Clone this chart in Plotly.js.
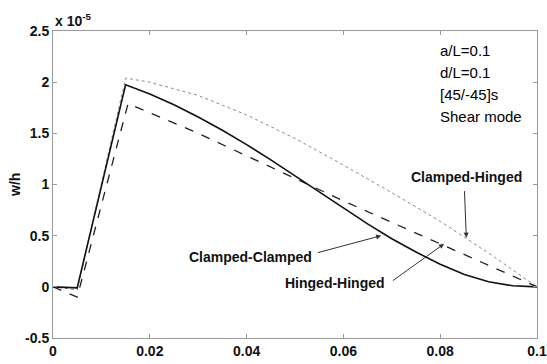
<!DOCTYPE html>
<html>
<head>
<meta charset="utf-8">
<script src="https://cdn.plot.ly/plotly-3.0.1.min.js"></script>
<style>html,body{margin:0;padding:0;background:#fff;}#chart{width:547px;height:364px;}</style>
</head>
<body>
<div id="chart"></div>
<script>
// Data (values in units of 1e-5)
const ccX = [0, 0.005, 0.015, 0.02, 0.025, 0.03, 0.035, 0.04, 0.045, 0.05, 0.055, 0.06, 0.065, 0.07, 0.075, 0.08, 0.085, 0.09, 0.095, 0.1];
const ccY = [0, -0.01, 1.975, 1.885, 1.78, 1.66, 1.53, 1.39, 1.24, 1.085, 0.93, 0.77, 0.615, 0.47, 0.34, 0.22, 0.12, 0.05, 0.01, 0];
const hhX = [0, 0.005, 0.0155, 0.02, 0.03, 0.04, 0.05, 0.06, 0.07, 0.08, 0.09, 0.1];
const hhY = [0, -0.1, 1.79, 1.70, 1.50, 1.28, 1.06, 0.84, 0.63, 0.42, 0.21, 0];
const chX = [0, 0.005, 0.015, 0.02, 0.03, 0.04, 0.05, 0.06, 0.07, 0.08, 0.09, 0.1];
const chY = [0, -0.03, 2.04, 2.00, 1.87, 1.68, 1.45, 1.19, 0.92, 0.64, 0.33, 0];
const xTickVals = [0, 0.02, 0.04, 0.06, 0.08, 0.1];
const xTickText = ["0", "0.02", "0.04", "0.06", "0.08", "0.1"];
const yTickVals = [-0.5, 0, 0.5, 1, 1.5, 2, 2.5];
const yTickText = ["-0.5", "0", "0.5", "1", "1.5", "2", "2.5"];
const infoLines = ["a/L=0.1", "d/L=0.1", "[45/-45]s", "Shear mode"];

const traces = [
  {x: chX, y: chY, mode: 'lines', line: {color: '#8a8a8a', width: 1, dash: 'dot'}, name: 'Clamped-Hinged'},
  {x: hhX, y: hhY, mode: 'lines', line: {color: '#222', width: 1.3, dash: 'dash'}, name: 'Hinged-Hinged'},
  {x: ccX, y: ccY, mode: 'lines', line: {color: '#111', width: 1.6}, name: 'Clamped-Clamped'}
];

const tickFont = {family: 'Liberation Sans, Arial, sans-serif', size: 14, color: '#111', weight: 'bold'};
const lblFont = {family: 'Liberation Sans, Arial, sans-serif', size: 14, color: '#111', weight: 'bold'};
const infoFont = {family: 'Liberation Sans, Arial, sans-serif', size: 15, color: '#000'};

const annotations = [
  {xref: 'paper', yref: 'paper', x: 0, y: 1, xanchor: 'left', yanchor: 'bottom',
   text: 'x 10<sup>-5</sup>', showarrow: false, font: tickFont},
  {xref: 'x', yref: 'y', x: 0.0855, y: 1.07, text: 'Clamped-Hinged', showarrow: false, font: lblFont, xanchor: 'center'},
  {xref: 'x', yref: 'y', x: 0.0408, y: 0.29, text: 'Clamped-Clamped', showarrow: false, font: lblFont, xanchor: 'center'},
  {xref: 'x', yref: 'y', x: 0.0583, y: 0.04, text: 'Hinged-Hinged', showarrow: false, font: lblFont, xanchor: 'center'},
  {xref: 'x', yref: 'y', axref: 'x', ayref: 'y', x: 0.0678, y: 0.50, ax: 0.0544, ay: 0.33, text: '', showarrow: true, arrowhead: 2, arrowsize: 1, arrowwidth: 1, arrowcolor: '#333'},
  {xref: 'x', yref: 'y', axref: 'x', ayref: 'y', x: 0.0808, y: 0.42, ax: 0.0699, ay: 0.05, text: '', showarrow: true, arrowhead: 2, arrowsize: 1, arrowwidth: 1, arrowcolor: '#333'},
  {xref: 'x', yref: 'y', axref: 'x', ayref: 'y', x: 0.0854, y: 0.48, ax: 0.0850, ay: 0.95, text: '', showarrow: true, arrowhead: 2, arrowsize: 1, arrowwidth: 1, arrowcolor: '#333'},
  {xref: 'paper', yref: 'paper', x: -(53 - 15) / 484, y: 1 - (185 - 31) / 307, xanchor: 'center', yanchor: 'middle',
   text: 'w/h', textangle: -90, showarrow: false, font: lblFont}
];
infoLines.forEach((t, i) => {
  annotations.push({xref: 'paper', yref: 'paper', x: (438 - 53) / 484, y: 1 - (50 + i * 22.3 - 31) / 307,
    xanchor: 'left', yanchor: 'middle', text: t, showarrow: false, font: infoFont});
});

const layout = {
  width: 547, height: 364,
  margin: {l: 53, r: 10, t: 31, b: 26},
  paper_bgcolor: '#fff', plot_bgcolor: '#fff',
  showlegend: false,
  xaxis: {range: [0, 0.1], tickvals: xTickVals, ticktext: xTickText, ticks: 'inside', ticklen: 4,
    tickcolor: '#999', showline: true, linecolor: '#999', linewidth: 1, mirror: 'ticks',
    showgrid: false, zeroline: false, tickfont: tickFont},
  yaxis: {range: [-0.5, 2.5], tickvals: yTickVals, ticktext: yTickText, ticks: 'inside', ticklen: 4,
    tickcolor: '#999', showline: true, linecolor: '#999', linewidth: 1, mirror: 'ticks',
    showgrid: false, zeroline: false, tickfont: tickFont},
  annotations: annotations
};

Plotly.newPlot('chart', traces, layout, {displayModeBar: false, staticPlot: true});
</script>
</body>
</html>
